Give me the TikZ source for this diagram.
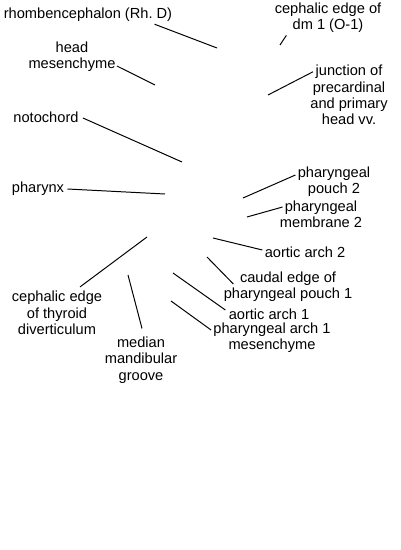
\documentclass[tikz,border=0pt]{standalone}
\usepackage{fontspec}
\setmainfont{Liberation Sans}
\usetikzlibrary{calc}

\begin{document}
\begin{tikzpicture}[
    x=0.025cm, y=-0.025cm,
    every node/.style={font=\fontsize{10.4}{11.6}\selectfont},
    lbl/.style={align=center, inner sep=1.5pt},
    leader/.style={line width=0.7pt, black}
  ]
    \useasboundingbox (0,0) rectangle (400,550);

    \node[lbl] (rhomb) at (88,15) {rhombencephalon (Rh.\ D)};
    \node[lbl] (dmedge) at (328,18) {cephalic edge of\\dm 1 (O-1)};
    \node[lbl] (headmes) at (72,57) {head\\mesenchyme};
    \node[lbl] (junction) at (349,95) {junction of\\precardinal\\and primary\\head vv.};
    \node[lbl] (notochord) at (46,117) {notochord};
    \node[lbl] (pharynx) at (38,189) {pharynx};
    \node[lbl] (pouchtwo) at (334,182) {pharyngeal\\pouch 2};
    \node[lbl] (membtwo) at (321,214) {pharyngeal\\membrane 2};
    \node[lbl] (aorttwo) at (305,252) {aortic arch 2};
    \node[lbl] (caudal) at (288,287) {caudal edge of\\pharyngeal pouch 1};
    \node[lbl] (thyroid) at (57,313) {cephalic edge\\of thyroid\\diverticulum};
    \node[lbl] (groove) at (141,360) {median\\mandibular\\groove};
    \node[lbl] (aortone) at (269,314) {aortic arch 1};
    \node[lbl] (archone) at (272,338) {pharyngeal arch 1\\mesenchyme};

    \coordinate (t-rhomb) at (217,48);
    \coordinate (t-dmedge) at (280,45);
    \coordinate (t-headmes) at (155,85);
    \coordinate (t-junction) at (268,95);
    \coordinate (t-notochord) at (182,162);
    \coordinate (t-pharynx) at (165,194);
    \coordinate (t-pouchtwo) at (243,198);
    \coordinate (t-membtwo) at (247,217);
    \coordinate (t-aorttwo) at (213,238);
    \coordinate (t-caudal) at (207,257);
    \coordinate (t-thyroid) at (147,237);
    \coordinate (t-groove) at (128,275);
    \coordinate (t-aortone) at (173,273);
    \coordinate (t-archone) at (171,301);

    \draw[leader] ($(rhomb.south east)+(-20,0)$) -- (t-rhomb);
    \draw[leader] ($(dmedge.south west)+(14,0)$) -- (t-dmedge);
    \draw[leader] ($(headmes.east)+(-1,9)$) -- (t-headmes);
    \draw[leader] ($(junction.north west)+(5,9)$) -- (t-junction);
    \draw[leader] ($(notochord.east)+(2,1)$) -- (t-notochord);
    \draw[leader] ($(pharynx.east)+(1,0)$) -- (t-pharynx);
    \draw[leader] ($(pouchtwo.west)+(0,-7)$) -- (t-pouchtwo);
    \draw[leader] ($(membtwo.west)+(5,-7)$) -- (t-membtwo);
    \draw[leader] ($(aorttwo.west)+(0,-2)$) -- (t-aorttwo);
    \draw[leader] ($(caudal.west)+(12,-3)$) -- (t-caudal);
    \draw[leader] ($(thyroid.north)+(23,-2)$) -- (t-thyroid);
    \draw[leader] ($(groove.north)+(1,-6)$) -- (t-groove);
    \draw[leader] ($(aortone.west)+(-1,-4)$) -- (t-aortone);
    \draw[leader] ($(archone.west)+(0,-8)$) -- (t-archone);

\end{tikzpicture}
\end{document}
